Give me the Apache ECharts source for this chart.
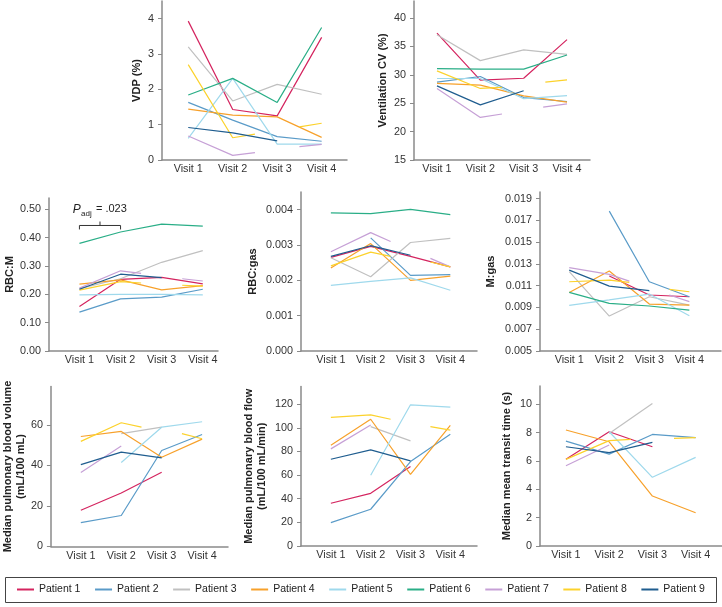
<!DOCTYPE html>
<html><head><meta charset="utf-8">
<script src="https://cdn.jsdelivr.net/npm/echarts@6/dist/echarts.min.js"></script>
<style>html,body{margin:0;padding:0;background:#fff}#c{width:722px;height:607px}</style>
</head><body><div id="c"></div>
<script>
// ---------------- data ----------------
const patients = ['Patient 1','Patient 2','Patient 3','Patient 4','Patient 5','Patient 6','Patient 7','Patient 8','Patient 9'];
const colors = ['#d4245f','#5a9bc8','#c0c0c0','#f7a12b','#9fd9ec','#2aae87','#c6a0d6','#fcd22c','#1f5d8f'];
const visitTicks = [1,2,3,4];
// each patient: list of [visit, value]; null = break in the line
const vdp = [
  [[1,3.93],[2,1.43],[3,1.25],[4,3.47]],
  [[1,1.63],[2,1.13],[3,0.66],[4,0.53]],
  [[1,3.2],[2,1.67],[3,2.14],[4,1.86]],
  [[1,1.44],[2,1.27],[3,1.22],[4,0.64]],
  [[1,0.61],[2,2.31],[3,0.45],[4,0.45]],
  [[1,1.84],[2,2.31],[3,1.63],[4,3.75]],
  [[1,0.68],[2,0.13],[2.5,0.21],null,[3.5,0.38],[4,0.44]],
  [[1,2.7],[2,0.63],[2.5,0.73],null,[3.5,0.94],[4,1.04]],
  [[1,0.92],[2,0.77],[3,0.54]]
];
const ventCV = [
  [[1,37.35],[2,29.06],[3,29.4],[4,36.2]],
  [[1,28.7],[2,29.7],[3,26.0],[4,25.3]],
  [[1,37.06],[2,32.5],[3,34.4],[4,33.6]],
  [[1,28.5],[2,28.2],[3,26.3],[4,25.2]],
  [[1,29.35],[2,29.35],[3,25.8],[4,26.35]],
  [[1,31.1],[2,31.0],[3,31.0],[4,33.5]],
  [[1,27.6],[2,22.5],[2.5,23.1],null,[3.45,24.3],[4,24.9]],
  [[1,30.7],[2,27.6],[2.5,27.8],null,[3.5,28.7],[4,29.1]],
  [[1,28.06],[2,24.7],[3,27.2]]
];
const rbcM = [
  [[1,0.157],[2,0.253],[3,0.26],[4,0.237]],
  [[1,0.137],[2,0.184],[3,0.19],[4,0.218]],
  [[1,0.22],[2,0.255],[3,0.313],[4,0.354]],
  [[1,0.236],[2,0.251],[3,0.216],[4,0.231]],
  [[1,0.198],[2,0.2],[3,0.2],[4,0.198]],
  [[1,0.38],[2,0.42],[3,0.448],[4,0.441]],
  [[1,0.222],[2,0.283],[2.5,0.274],null,[3.5,0.255],[4,0.247]],
  [[1,0.215],[2,0.245],[2.5,0.24],null,[3.5,0.232],[4,0.229]],
  [[1,0.218],[2,0.271],[3,0.259]]
];
const rbcGas = [
  [[1,0.00265],[2,0.00296],[3,0.00268],[4,0.00238]],
  [[2,0.0032],[3,0.00214],[4,0.00216]],
  [[1,0.00264],[2,0.0021],[3,0.00307],[4,0.00319]],
  [[1,0.00235],[2,0.00304],[3,0.002],[4,0.00212]],
  [[1,0.00186],[2,0.00197],[3,0.00207],[4,0.00172]],
  [[1,0.00391],[2,0.00389],[3,0.00401],[4,0.00386]],
  [[1,0.00281],[2,0.00335],[2.5,0.0031],null,[3.5,0.00262],[4,0.00238]],
  [[1,0.00241],[2,0.0028],[2.5,0.00268],null,[3.5,0.00252],[4,0.00238]],
  [[1,0.00268],[2,0.00298],[3,0.00271]]
];
const mGas = [
  [[2,0.01188],[3,0.01014],[4,0.00998]],
  [[2,0.01784],[3,0.01136],[4,0.00998]],
  [[1,0.01228],[2,0.00821],[3,0.00998],[4,0.00922]],
  [[1,0.01038],[2,0.01234],[3,0.00931],[4,0.00922]],
  [[1,0.00919],[2,0.0097],[3,0.01023],[4,0.00824]],
  [[1,0.01038],[2,0.00937],[3,0.00913],[4,0.00876]],
  [[1,0.01265],[2,0.01203],[2.5,0.01142],null,[3.5,0.01014],[4,0.00953]],
  [[1,0.01136],[2,0.01151],[2.5,0.0113],null,[3.5,0.01066],[4,0.01044]],
  [[1,0.01243],[2,0.01096],[3,0.01054]]
];
const pbv = [
  [[1,17.9],[2,26.4],[3,36.7]],
  [[1,11.8],[2,15.3],[3,47.4],[4,55.3]],
  [[2,55.7],[3,58.9]],
  [[1,54.3],[2,56.8],[3,44.1],[4,53.0]],
  [[2,41.5],[3,58.9],[4,61.6]],
  [],
  [[1,36.5],[2,49.6]],
  [[1,51.9],[2,61.1],[2.5,58.9],null,[3.5,55.7],[4,53.2]],
  [[1,40.4],[2,46.6],[3,43.8]]
];
const pbf = [
  [[1,36.2],[2,44.6],[3,67.2]],
  [[1,19.8],[2,31.1],[3,71.5],[4,94.6]],
  [[2,101],[3,89]],
  [[1,85.3],[2,107.3],[3,60.7],[4,102]],
  [[2,59.9],[3,119.5],[4,117.5]],
  [],
  [[1,82.2],[2,102.5]],
  [[1,108.8],[2,111],[2.5,107.3],null,[3.5,101],[4,98]],
  [[1,73.4],[2,81.4],[3,72]]
];
const mtt = [
  [[1,6.12],[2,8.07],[3,7.01]],
  [[1,7.41],[2,6.49],[3,7.88],[4,7.65]],
  [[2,7.95],[3,10.07]],
  [[1,8.19],[2,7.36],[3,3.53],[4,2.35]],
  [[2,8.07],[3,4.85],[4,6.26]],
  [],
  [[1,5.67],[2,7.13]],
  [[1,6.12],[2,7.44],[2.5,7.53],null,[3.5,7.6],[4,7.65]],
  [[1,7.01],[2,6.59],[3,7.32]]
];
const ticksVdp = [0,1,2,3,4];
const ticksVent = [15,20,25,30,35,40];
const ticksRbcM = [0,0.1,0.2,0.3,0.4,0.5];
const ticksRbcGas = [0,0.001,0.002,0.003,0.004];
const ticksMGas = [0.005,0.007,0.009,0.011,0.013,0.015,0.017,0.019];
const ticksPbv = [0,20,40,60];
const ticksPbf = [0,20,40,60,80,100,120];
const ticksMtt = [0,2,4,6,8,10];
const pAdjText = '= .023';

// ---------------- layout ----------------
const FONT = "'Liberation Sans', Arial, Helvetica, sans-serif";
const AX = '#8a8a8a';
const panels = [
  {data:vdp, name:'VDP (%)', gap:19, y:[0,4.5], t:ticksVdp, dec:0, g:{left:162,top:1,width:185,height:159}, x:[0.41,4.57]},
  {data:ventCV, name:'Ventilation CV (%)', gap:25, y:[15,43], t:ticksVent, dec:0, g:{left:414,top:1,width:176,height:159}, x:[0.47,4.53]},
  {data:rbcM, name:'RBC:M', gap:32, y:[0,0.54], t:ticksRbcM, dec:2, g:{left:49,top:198,width:169,height:153}, x:[0.26,4.37]},
  {data:rbcGas, name:'RBC:gas', gap:42, y:[0,0.0045], t:ticksRbcGas, dec:3, g:{left:301,top:192,width:176,height:159}, x:[0.25,4.67]},
  {data:mGas, name:'M:gas', gap:43, y:[0.005,0.0196], t:ticksMGas, dec:3, g:{left:540,top:192,width:181,height:159}, x:[0.27,4.79]},
  {data:pbv, name:'Median pulmonary blood volume\n(mL/100 mL)', gap:16, y:[0,79], t:ticksPbv, dec:0, g:{left:49,top:386.5,width:179,height:160}, x:[0.26,4.64]},
  {data:pbf, name:'Median pulmonary blood flow\n(mL/100 mL/min)', gap:33, y:[0,135], t:ticksPbf, dec:0, g:{left:301,top:386.5,width:176,height:159.5}, x:[0.25,4.67]},
  {data:mtt, name:'Median mean transit time (s)', gap:27, y:[0,11.3], t:ticksMtt, dec:0, g:{left:540,top:386,width:182,height:160}, x:[0.4,4.61]}
];

const grid=[], xAxis=[], yAxis=[], series=[];
panels.forEach((p,i)=>{
  grid.push(Object.assign({}, p.g));
  xAxis.push({type:'value', gridIndex:i, min:p.x[0], max:p.x[1],
    axisLine:{show:true,onZero:false,lineStyle:{color:AX,width:1.5}},
    axisTick:{show:false}, splitLine:{show:false},
    axisLabel:{customValues:visitTicks, formatter:v=>'Visit '+v, margin:4, fontSize:10.8, color:'#333', fontFamily:FONT}});
  yAxis.push({type:'value', gridIndex:i, min:p.y[0], max:p.y[1],
    name:p.name, nameLocation:'middle', nameRotate:90, nameGap:p.gap,
    nameTextStyle:{fontWeight:'bold', fontSize:11, color:'#222', fontFamily:FONT, lineHeight:13},
    axisLine:{show:true,onZero:false,lineStyle:{color:AX,width:1.5}},
    axisTick:{show:true, customValues:p.t, length:4, lineStyle:{color:AX,width:1}},
    splitLine:{show:false},
    axisLabel:{customValues:p.t, formatter:v=>Number(v).toFixed(p.dec), margin:8, fontSize:10.8, color:'#333', fontFamily:FONT}});
  p.data.forEach((pts,k)=>{
    series.push({type:'line', name:patients[k], xAxisIndex:i, yAxisIndex:i,
      data: pts.map(d=> d===null ? ['-','-'] : d),
      showSymbol:false, symbol:'none', connectNulls:false,
      lineStyle:{color:colors[k], width:1.2}, itemStyle:{color:colors[k]},
      emphasis:{disabled:true}, silent:true});
  });
});

const chart = echarts.init(document.getElementById('c'), null, {renderer:'canvas'});
chart.setOption({
  animation:false,
  grid, xAxis, yAxis, series,
  legend:{data:patients, icon:'rect', itemWidth:17, itemHeight:2, itemGap:14.6, left:17, top:584, padding:0,
    textStyle:{fontSize:10.5, color:'#222', fontFamily:FONT}, selectedMode:false},
  graphic:[{type:'rect', shape:{x:5.5,y:577.5,width:711,height:25}, style:{fill:'none', stroke:'#444', lineWidth:1}, silent:true}]
});

// P_adj annotation anchored through the RBC:M axes
const a = chart.convertToPixel({gridIndex:2}, [1, 0.443]);
const b = chart.convertToPixel({gridIndex:2}, [2, 0.443]);
const yDown = chart.convertToPixel({gridIndex:2}, [1, 0.429])[1];
const yUp = chart.convertToPixel({gridIndex:2}, [1, 0.457])[1];
const tp = chart.convertToPixel({gridIndex:2}, [1, 0.5]);
const mid = (a[0]+b[0])/2;
const ls = {stroke:'#333', lineWidth:1};
chart.setOption({graphic:[
  {type:'rect', shape:{x:5.5,y:577.5,width:711,height:25}, style:{fill:'none', stroke:'#444', lineWidth:1}, silent:true},
  {type:'polyline', shape:{points:[[a[0],yDown],[a[0],a[1]],[b[0],b[1]],[b[0],yDown]]}, style:Object.assign({fill:'none'},ls), silent:true},
  {type:'line', shape:{x1:mid,y1:a[1],x2:mid,y2:yUp}, style:ls, silent:true},
  {type:'text', x:tp[0]-6.6, y:tp[1], style:{text:'P', fontStyle:'italic', fontSize:12, fontFamily:FONT, fill:'#222', verticalAlign:'middle', align:'left'}, silent:true},
  {type:'text', x:tp[0]+1.6, y:tp[1]+4.5, style:{text:'adj', fontSize:8, fontFamily:FONT, fill:'#222', verticalAlign:'middle', align:'left'}, silent:true},
  {type:'text', x:tp[0]+16.5, y:tp[1], style:{text:pAdjText, fontSize:11, fontFamily:FONT, fill:'#222', verticalAlign:'middle', align:'left'}, silent:true}
]});
</script>
</body></html>
